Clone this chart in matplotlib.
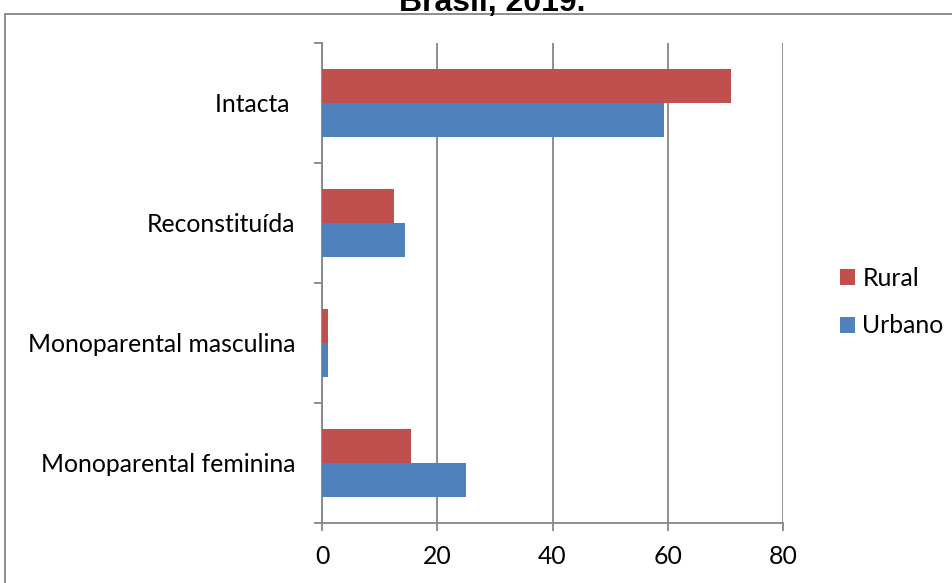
import numpy as np
import matplotlib.pyplot as plt
from matplotlib.patches import Rectangle

# data (percent), bottom to top
categories = ['Monoparental feminina', 'Monoparental masculina', 'Reconstituída', 'Intacta ']
rural = [15.4, 1.0, 12.5, 71.0]
urbano = [25.0, 1.0, 14.4, 59.3]
xticks = [0, 20, 40, 60, 80]

plt.rcParams['font.family'] = ['Lato', 'DejaVu Sans']

fig = plt.figure(figsize=(9.53, 5.83), dpi=100)
ax = fig.add_axes([322 / 953, 1 - 523 / 583, (783 - 322) / 953, (523 - 43) / 583])

grey = '#868686'
y = np.arange(len(categories))
h = 0.283
ax.barh(y + h / 2, rural, height=h, color='#C0504D', label='Rural', zorder=3)
ax.barh(y - h / 2, urbano, height=h, color='#4F81BD', label='Urbano', zorder=3)

ax.set_xlim(0, 80)
ax.set_ylim(-0.5, len(categories) - 0.5)
ax.set_xticks(xticks)
ax.set_xticklabels([str(v) for v in xticks])
ax.xaxis.grid(True, color=grey, linewidth=1.3, zorder=0)

# category boundaries as major ticks, names at centres
ax.set_yticks(np.arange(-0.5, len(categories), 1.0))
ax.set_yticklabels([])
ax.set_yticks(y, minor=True)
ax.set_yticklabels(categories, minor=True)
ax.tick_params(axis='y', which='major', length=6, width=1.3, color=grey, direction='out')
ax.tick_params(axis='y', which='minor', length=0, pad=19, labelsize=17.8)
ax.tick_params(axis='x', length=6, width=1.3, color=grey, pad=10, labelsize=17.8)

for s in ['top', 'right']:
    ax.spines[s].set_visible(False)
for s in ['left', 'bottom']:
    ax.spines[s].set_color(grey)
    ax.spines[s].set_linewidth(1.3)

handles, labels = ax.get_legend_handles_labels()
fig.legend(handles, labels, loc='center left', bbox_to_anchor=(840 / 953, 1 - 302 / 583),
           frameon=False, fontsize=17.8, handlelength=0.61, handleheight=0.61,
           handletextpad=0.3, labelspacing=1.0, borderpad=0, borderaxespad=0)

fig.text(492 / 953, 1 - 11 / 583, 'Brasil, 2019.', ha='center', va='baseline',
         fontsize=23, fontweight='bold', family='Liberation Sans')

fig.patches.append(Rectangle((5 / 953, -0.1), 1.2, 1.1 - 14 / 583, transform=fig.transFigure,
                             fill=False, edgecolor=grey, linewidth=1.3))

fig.savefig('out.png', dpi=100)
